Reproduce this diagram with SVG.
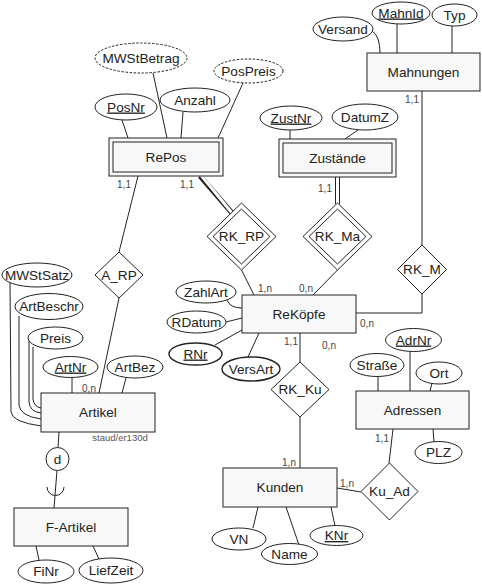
<svg xmlns="http://www.w3.org/2000/svg" width="482" height="588" viewBox="0 0 482 588">
<style>
text{font-family:"Liberation Sans",Arial,sans-serif;fill:#222;text-anchor:middle}
.n{font-size:13.6px}
.c{font-size:10px;fill:#444}
.s{font-size:9.5px;fill:#555}
.e{fill:#fff;stroke:#222;stroke-width:1}
.d{fill:#fff;stroke:#222;stroke-width:1;stroke-dasharray:2.5 1.5}
.r{fill:#f8f8f8;stroke:#222;stroke-width:1}
.ri{fill:none;stroke:#222;stroke-width:1}
.l{fill:none;stroke:#222;stroke-width:1}
.dbl{fill:none;stroke:#222;stroke-width:5}
.dblw{fill:none;stroke:#fff;stroke-width:3}
.b{stroke-width:1.4}
</style>
<g id="connectors">
<line class="l" x1="122" y1="120" x2="128" y2="138"/>
<line class="l" x1="153" y1="73" x2="167" y2="138"/>
<line class="l" x1="183" y1="112" x2="181" y2="138"/>
<line class="l" x1="243" y1="83" x2="218" y2="138"/>
<path class="l" d="M372,31 Q380,36 380,53"/>
<line class="l" x1="397" y1="24" x2="397" y2="53"/>
<line class="l" x1="452" y1="26" x2="452" y2="53"/>
<line class="l" x1="290" y1="130" x2="290" y2="139"/>
<line class="l" x1="358" y1="130" x2="345" y2="139"/>
<line class="l" x1="138" y1="176" x2="119" y2="252"/>
<line class="l" x1="119" y1="298" x2="99" y2="393"/>
<line class="dbl" x1="200" y1="176" x2="232" y2="213"/>
<line class="dblw" x1="200" y1="174" x2="232" y2="213"/>
<line class="dbl" x1="337.5" y1="177" x2="337.5" y2="204"/>
<line class="dblw" x1="337.5" y1="175" x2="337.5" y2="204"/>
<line class="l" x1="241.5" y1="270" x2="254" y2="295"/>
<line class="l" x1="337.5" y1="270" x2="313" y2="295"/>
<line class="l" x1="422" y1="91" x2="422" y2="245"/>
<polyline class="l" points="422,294 422,313 356,313"/>
<path class="l" d="M227,300 Q230,308 242,308"/>
<line class="l" x1="226" y1="322" x2="242" y2="318"/>
<line class="l" x1="215" y1="345" x2="242" y2="330"/>
<line class="l" x1="248" y1="357" x2="259" y2="333"/>
<line class="l" x1="300" y1="333" x2="300" y2="362"/>
<line class="l" x1="300" y1="417" x2="300" y2="468"/>
<line class="l" x1="337" y1="488" x2="361" y2="492"/>
<line class="l" x1="393" y1="429" x2="389" y2="463"/>
<line class="l" x1="410" y1="352" x2="410" y2="391"/>
<line class="l" x1="378" y1="376" x2="378" y2="391"/>
<line class="l" x1="432" y1="383" x2="430" y2="391"/>
<line class="l" x1="433" y1="429" x2="434" y2="442"/>
<line class="l" x1="253" y1="528" x2="258" y2="507"/>
<line class="l" x1="299" y1="545" x2="286" y2="507"/>
<line class="l" x1="335" y1="526" x2="331" y2="507"/>
<line class="l" x1="72" y1="377" x2="72" y2="393"/>
<line class="l" x1="126" y1="378" x2="122" y2="393"/>
<path class="l" d="M10,282 L11,412 Q12,422 41,426"/>
<path class="l" d="M19,316 L19,405 Q20,416 41,419"/>
<path class="l" d="M29,341 L29,402 Q30,412 41,413"/>
<path class="l" d="M33,347 L33,399 Q34,407 41,408"/>
<line class="l" x1="59" y1="432" x2="58" y2="447.5"/>
<line class="l" x1="57" y1="470.5" x2="54" y2="508"/>
<path class="l" d="M47,487 A8.5,8.5 0 0,0 64,487"/>
<line class="l" x1="39" y1="560" x2="36" y2="546"/>
<line class="l" x1="99" y1="559" x2="93" y2="546"/>
</g>
<g id="MWStBetrag"><ellipse class="d" cx="141" cy="58" rx="46" ry="15"/><text class="n" x="141" y="62.5">MWStBetrag</text></g>
<g id="PosPreis"><ellipse class="d" cx="248.5" cy="71" rx="34.5" ry="12"/><text class="n" x="248.5" y="75.5">PosPreis</text></g>
<g id="PosNr"><ellipse class="e" cx="126" cy="107" rx="31" ry="13"/><text class="n" x="126" y="111.5" text-decoration="underline">PosNr</text></g>
<g id="Anzahl"><ellipse class="e" cx="195" cy="100" rx="35" ry="12"/><text class="n" x="195" y="104.5">Anzahl</text></g>
<g id="RePos"><rect class="r" x="109" y="138" width="114" height="38"/><rect class="ri" x="113" y="142" width="106" height="30"/><text class="n" x="166" y="161.5">RePos</text></g>
<g id="Versand"><ellipse class="e" cx="343" cy="29" rx="30" ry="12"/><text class="n" x="343" y="33.5">Versand</text></g>
<g id="MahnId"><ellipse class="e" cx="401" cy="13" rx="29" ry="11"/><text class="n" x="401" y="17.5" text-decoration="underline">MahnId</text></g>
<g id="Typ"><ellipse class="e" cx="454.5" cy="15" rx="22.5" ry="11"/><text class="n" x="454.5" y="19.5">Typ</text></g>
<g id="Mahnungen"><rect class="r" x="367" y="53" width="113" height="38"/><text class="n" x="423.5" y="76.5">Mahnungen</text></g>
<g id="ZustNr"><ellipse class="e" cx="291" cy="118" rx="31" ry="12"/><text class="n" x="291" y="122.5" text-decoration="underline">ZustNr</text></g>
<g id="DatumZ"><ellipse class="e" cx="365" cy="117" rx="33" ry="13"/><text class="n" x="365" y="121.5">DatumZ</text></g>
<g id="Zustaende"><rect class="r" x="279" y="139" width="117" height="38"/><rect class="ri" x="283" y="143" width="109" height="30"/><text class="n" x="337.5" y="162.5">Zustände</text></g>
<g id="RK_RP"><polygon class="e" points="241.5,203 276,236.5 241.5,270 207,236.5"/><polygon class="ri" points="241.5,209 270,236.5 241.5,264 213,236.5"/><text class="n" x="241.5" y="241">RK_RP</text></g>
<g id="RK_Ma"><polygon class="e" points="337.5,203 372,236.5 337.5,270 303,236.5"/><polygon class="ri" points="337.5,209 366,236.5 337.5,264 309,236.5"/><text class="n" x="337.5" y="241">RK_Ma</text></g>
<g id="RK_M"><polygon class="e" points="422,245 446.5,269.5 422,294 397.5,269.5"/><text class="n" x="422" y="274">RK_M</text></g>
<g id="A_RP"><polygon class="e" points="119,252 143,275 119,298 95,275"/><text class="n" x="119" y="279.5">A_RP</text></g>
<g id="ReKoepfe"><rect class="r" x="242" y="295" width="114" height="38"/><text class="n" x="299" y="318.5">ReKöpfe</text></g>
<g id="ZahlArt"><ellipse class="e" cx="206" cy="292" rx="30" ry="11"/><text class="n" x="206" y="296.5">ZahlArt</text></g>
<g id="RDatum"><ellipse class="e" cx="196.5" cy="322" rx="29.5" ry="11"/><text class="n" x="196.5" y="326.5">RDatum</text></g>
<g id="RNr"><ellipse class="e b" cx="195.5" cy="354" rx="26.5" ry="11"/><text class="n" x="195.5" y="358.5" text-decoration="underline">RNr</text></g>
<g id="VersArt"><ellipse class="e b" cx="251" cy="369" rx="29" ry="12"/><text class="n" x="251" y="373.5">VersArt</text></g>
<g id="RK_Ku"><polygon class="e" points="300,362 329,389.5 300,417 271,389.5"/><text class="n" x="300" y="394">RK_Ku</text></g>
<g id="AdrNr"><ellipse class="e" cx="413.5" cy="340" rx="28" ry="11.5"/><text class="n" x="413.5" y="344.5" text-decoration="underline">AdrNr</text></g>
<g id="Strasse"><ellipse class="e" cx="377" cy="365" rx="27" ry="11.5"/><text class="n" x="377" y="369.5">Straße</text></g>
<g id="Ort"><ellipse class="e" cx="439" cy="373" rx="23" ry="11"/><text class="n" x="439" y="377.5">Ort</text></g>
<g id="Adressen"><rect class="r" x="356" y="391" width="113" height="38"/><text class="n" x="412.5" y="414.5">Adressen</text></g>
<g id="PLZ"><ellipse class="e" cx="438.5" cy="452.5" rx="23.5" ry="11"/><text class="n" x="438.5" y="457">PLZ</text></g>
<g id="Kunden"><rect class="r" x="223" y="468" width="114" height="39"/><text class="n" x="280" y="492">Kunden</text></g>
<g id="Ku_Ad"><polygon class="e" points="389.5,463 418,491.5 389.5,520 361,491.5"/><text class="n" x="389.5" y="496">Ku_Ad</text></g>
<g id="VN"><ellipse class="e" cx="239" cy="539" rx="27" ry="11"/><text class="n" x="239" y="543.5">VN</text></g>
<g id="Name"><ellipse class="e" cx="289.5" cy="554" rx="28" ry="10.5"/><text class="n" x="289.5" y="558.5">Name</text></g>
<g id="KNr"><ellipse class="e" cx="336.5" cy="535.5" rx="26.5" ry="10"/><text class="n" x="336.5" y="540" text-decoration="underline">KNr</text></g>
<g id="MWStSatz"><ellipse class="e" cx="37" cy="275" rx="35" ry="12"/><text class="n" x="37" y="279.5">MWStSatz</text></g>
<g id="ArtBeschr"><ellipse class="e" cx="49" cy="306.5" rx="34" ry="13"/><text class="n" x="49" y="311">ArtBeschr</text></g>
<g id="Preis"><ellipse class="e" cx="55.5" cy="338" rx="27.5" ry="11"/><text class="n" x="55.5" y="342.5">Preis</text></g>
<g id="ArtNr"><ellipse class="e" cx="70.5" cy="367" rx="27.5" ry="10.5"/><text class="n" x="70.5" y="371.5" text-decoration="underline">ArtNr</text></g>
<g id="ArtBez"><ellipse class="e" cx="135" cy="367" rx="28" ry="11"/><text class="n" x="135" y="371.5">ArtBez</text></g>
<g id="Artikel"><rect class="r" x="41" y="393" width="114" height="39"/><text class="n" x="98" y="417">Artikel</text><text class="s" x="120" y="441">staud/er130d</text></g>
<g id="disjoint"><circle class="e" cx="57.5" cy="459" r="11.5"/><text class="n" x="57.5" y="463.5">d</text></g>
<g id="F-Artikel"><rect class="r" x="14" y="508" width="114" height="38"/><text class="n" x="71" y="531.5">F-Artikel</text></g>
<g id="FiNr"><ellipse class="e" cx="46" cy="571.5" rx="28" ry="11.5"/><text class="n" x="46" y="576">FiNr</text></g>
<g id="LiefZeit"><ellipse class="e" cx="111" cy="570.5" rx="32" ry="12.5"/><text class="n" x="111" y="575">LiefZeit</text></g>
<g id="cardinalities">
<text class="c" x="124" y="188">1,1</text>
<text class="c" x="187" y="188">1,1</text>
<text class="c" x="325" y="192">1,1</text>
<text class="c" x="412" y="103">1,1</text>
<text class="c" x="265" y="292">1,n</text>
<text class="c" x="306" y="292">0,n</text>
<text class="c" x="367" y="327">0,n</text>
<text class="c" x="291" y="345">1,1</text>
<text class="c" x="329" y="349">0,n</text>
<text class="c" x="89" y="392">0,n</text>
<text class="c" x="382" y="442">1,1</text>
<text class="c" x="289" y="466">1,n</text>
<text class="c" x="347" y="487">1,n</text>
</g>
</svg>
